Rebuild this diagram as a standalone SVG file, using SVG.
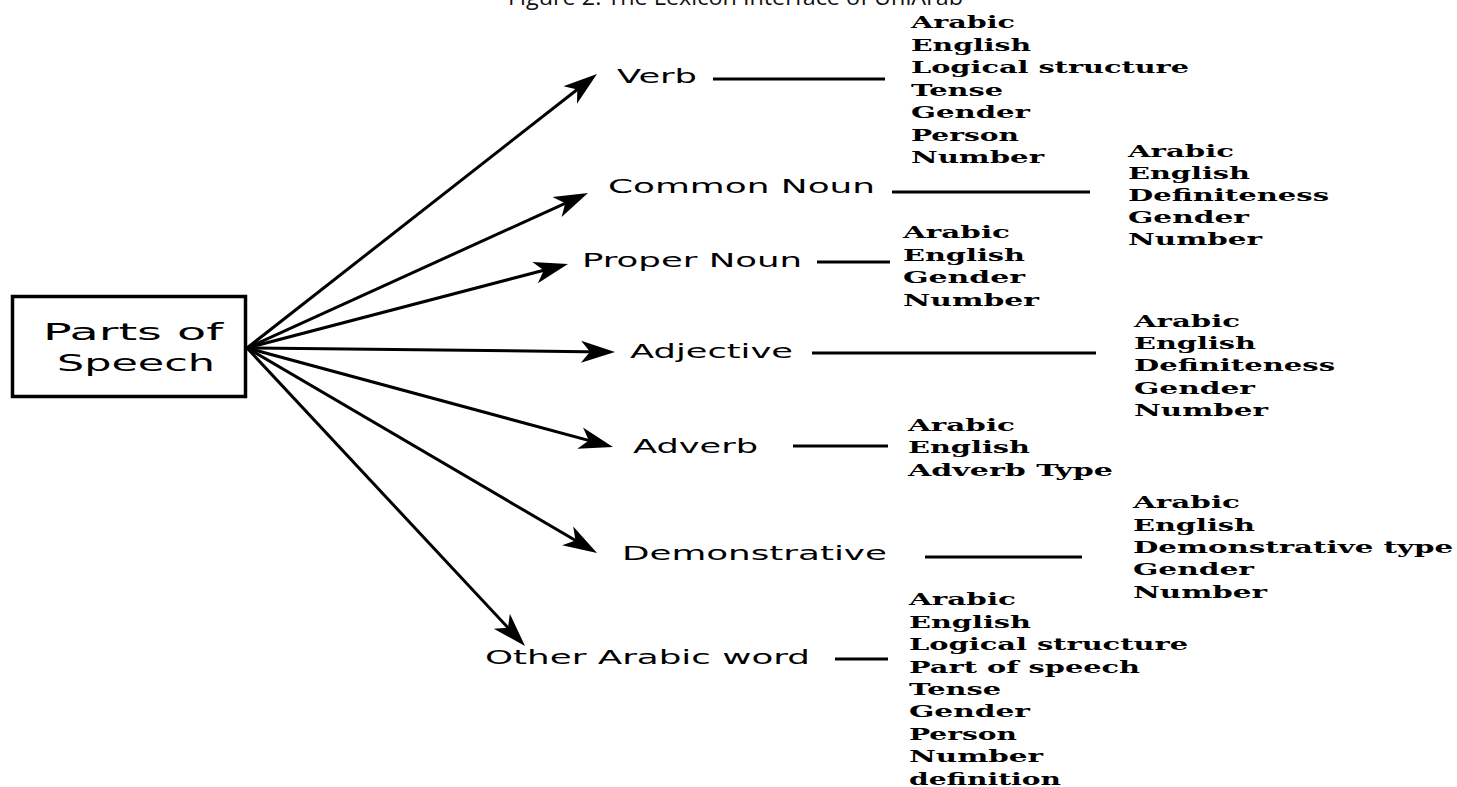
<svg xmlns="http://www.w3.org/2000/svg" width="1457" height="787" viewBox="0 0 1457 787">
<style>
.title{font-family:"Open Sans","Liberation Sans",sans-serif;font-size:22px;fill:#111}
.lbl{font-family:"DejaVu Sans","Liberation Sans",sans-serif;font-size:20px;fill:#000}
.big{font-family:"DejaVu Sans","Liberation Sans",sans-serif;font-size:23px;fill:#000}
.it{font-family:"DejaVu Serif","Liberation Serif",serif;font-weight:bold;font-size:16px;fill:#000}
.box{fill:#fff;stroke:#000;stroke-width:3.5}
.arr{stroke:#000;stroke-width:3;fill:none;marker-end:url(#ah)}
.ln{stroke:#000;stroke-width:3;fill:none}
</style>
<defs>
<marker id="ah" markerUnits="userSpaceOnUse" orient="auto" refX="24" refY="0" markerWidth="40" markerHeight="30" viewBox="0 -15 40 30" overflow="visible">
<path d="M0,-11 L34,0 L0,11 L9,0 Z" fill="#000"/>
</marker>
</defs>
<rect width="1457" height="787" fill="#fff"/>
<text class="title" x="508" y="5" textLength="455" lengthAdjust="spacingAndGlyphs">Figure 2: The Lexicon Interface of UniArab</text>

<g id="parts-of-speech">
<rect class="box" x="12.5" y="296.5" width="233" height="100"/>
<text class="big" x="43" y="340" textLength="180" lengthAdjust="spacingAndGlyphs">Parts of</text>
<text class="big" x="57" y="371" textLength="158" lengthAdjust="spacingAndGlyphs">Speech</text>
</g>

<g id="connectors">
<line class="arr" x1="247" y1="348" x2="589.1" y2="80.2"/>
<line class="arr" x1="247" y1="348" x2="578.9" y2="197.1"/>
<line class="arr" x1="247" y1="348" x2="558.3" y2="266.5"/>
<line class="arr" x1="247" y1="348" x2="605" y2="351.9"/>
<line class="arr" x1="247" y1="348" x2="603.3" y2="444.4"/>
<line class="arr" x1="247" y1="348" x2="588.4" y2="548"/>
<line class="arr" x1="247" y1="348" x2="518.2" y2="638.7"/>
<line class="ln" x1="713" y1="79" x2="885" y2="79"/>
<line class="ln" x1="892" y1="192" x2="1090" y2="192"/>
<line class="ln" x1="817" y1="262" x2="890" y2="262"/>
<line class="ln" x1="812" y1="353" x2="1096" y2="353"/>
<line class="ln" x1="793" y1="446" x2="888" y2="446"/>
<line class="ln" x1="925" y1="557" x2="1082" y2="557"/>
<line class="ln" x1="835" y1="659" x2="888" y2="659"/>
</g>

<g id="verb">
<text class="lbl" x="617" y="83" textLength="80" lengthAdjust="spacingAndGlyphs">Verb</text>
<text class="it" x="911" y="28" textLength="104" lengthAdjust="spacingAndGlyphs">Arabic</text>
<text class="it" x="911" y="51" textLength="120" lengthAdjust="spacingAndGlyphs">English</text>
<text class="it" x="911" y="73" textLength="278" lengthAdjust="spacingAndGlyphs">Logical structure</text>
<text class="it" x="911" y="96" textLength="92" lengthAdjust="spacingAndGlyphs">Tense</text>
<text class="it" x="911" y="118" textLength="119" lengthAdjust="spacingAndGlyphs">Gender</text>
<text class="it" x="911" y="141" textLength="108" lengthAdjust="spacingAndGlyphs">Person</text>
<text class="it" x="911" y="163" textLength="133" lengthAdjust="spacingAndGlyphs">Number</text>
</g>

<g id="common-noun">
<text class="lbl" x="608" y="193" textLength="267" lengthAdjust="spacingAndGlyphs">Common Noun</text>
<text class="it" x="1128" y="157" textLength="106" lengthAdjust="spacingAndGlyphs">Arabic</text>
<text class="it" x="1128" y="179" textLength="122" lengthAdjust="spacingAndGlyphs">English</text>
<text class="it" x="1128" y="201" textLength="201" lengthAdjust="spacingAndGlyphs">Definiteness</text>
<text class="it" x="1128" y="223" textLength="121" lengthAdjust="spacingAndGlyphs">Gender</text>
<text class="it" x="1128" y="245" textLength="134" lengthAdjust="spacingAndGlyphs">Number</text>
</g>

<g id="proper-noun">
<text class="lbl" x="582" y="267" textLength="220" lengthAdjust="spacingAndGlyphs">Proper Noun</text>
<text class="it" x="903" y="238" textLength="107" lengthAdjust="spacingAndGlyphs">Arabic</text>
<text class="it" x="903" y="261" textLength="122" lengthAdjust="spacingAndGlyphs">English</text>
<text class="it" x="903" y="283" textLength="122" lengthAdjust="spacingAndGlyphs">Gender</text>
<text class="it" x="903" y="306" textLength="136" lengthAdjust="spacingAndGlyphs">Number</text>
</g>

<g id="adjective">
<text class="lbl" x="630" y="358" textLength="163" lengthAdjust="spacingAndGlyphs">Adjective</text>
<text class="it" x="1134" y="327" textLength="106" lengthAdjust="spacingAndGlyphs">Arabic</text>
<text class="it" x="1134" y="349" textLength="122" lengthAdjust="spacingAndGlyphs">English</text>
<text class="it" x="1134" y="371" textLength="201" lengthAdjust="spacingAndGlyphs">Definiteness</text>
<text class="it" x="1134" y="394" textLength="121" lengthAdjust="spacingAndGlyphs">Gender</text>
<text class="it" x="1134" y="416" textLength="134" lengthAdjust="spacingAndGlyphs">Number</text>
</g>

<g id="adverb">
<text class="lbl" x="633" y="453" textLength="125" lengthAdjust="spacingAndGlyphs">Adverb</text>
<text class="it" x="908" y="431" textLength="107" lengthAdjust="spacingAndGlyphs">Arabic</text>
<text class="it" x="908" y="453" textLength="122" lengthAdjust="spacingAndGlyphs">English</text>
<text class="it" x="908" y="476" textLength="205" lengthAdjust="spacingAndGlyphs">Adverb Type</text>
</g>

<g id="demonstrative">
<text class="lbl" x="622" y="560" textLength="265" lengthAdjust="spacingAndGlyphs">Demonstrative</text>
<text class="it" x="1133" y="508" textLength="107" lengthAdjust="spacingAndGlyphs">Arabic</text>
<text class="it" x="1133" y="531" textLength="122" lengthAdjust="spacingAndGlyphs">English</text>
<text class="it" x="1133" y="553" textLength="320" lengthAdjust="spacingAndGlyphs">Demonstrative type</text>
<text class="it" x="1133" y="575" textLength="121" lengthAdjust="spacingAndGlyphs">Gender</text>
<text class="it" x="1133" y="598" textLength="134" lengthAdjust="spacingAndGlyphs">Number</text>
</g>

<g id="other-arabic-word">
<text class="lbl" x="485" y="664" textLength="325" lengthAdjust="spacingAndGlyphs">Other Arabic word</text>
<text class="it" x="909" y="605" textLength="107" lengthAdjust="spacingAndGlyphs">Arabic</text>
<text class="it" x="909" y="628" textLength="122" lengthAdjust="spacingAndGlyphs">English</text>
<text class="it" x="909" y="650" textLength="279" lengthAdjust="spacingAndGlyphs">Logical structure</text>
<text class="it" x="909" y="673" textLength="231" lengthAdjust="spacingAndGlyphs">Part of speech</text>
<text class="it" x="909" y="695" textLength="92" lengthAdjust="spacingAndGlyphs">Tense</text>
<text class="it" x="909" y="717" textLength="121" lengthAdjust="spacingAndGlyphs">Gender</text>
<text class="it" x="909" y="740" textLength="108" lengthAdjust="spacingAndGlyphs">Person</text>
<text class="it" x="909" y="762" textLength="134" lengthAdjust="spacingAndGlyphs">Number</text>
<text class="it" x="909" y="785" textLength="152" lengthAdjust="spacingAndGlyphs">definition</text>
</g>
</svg>
